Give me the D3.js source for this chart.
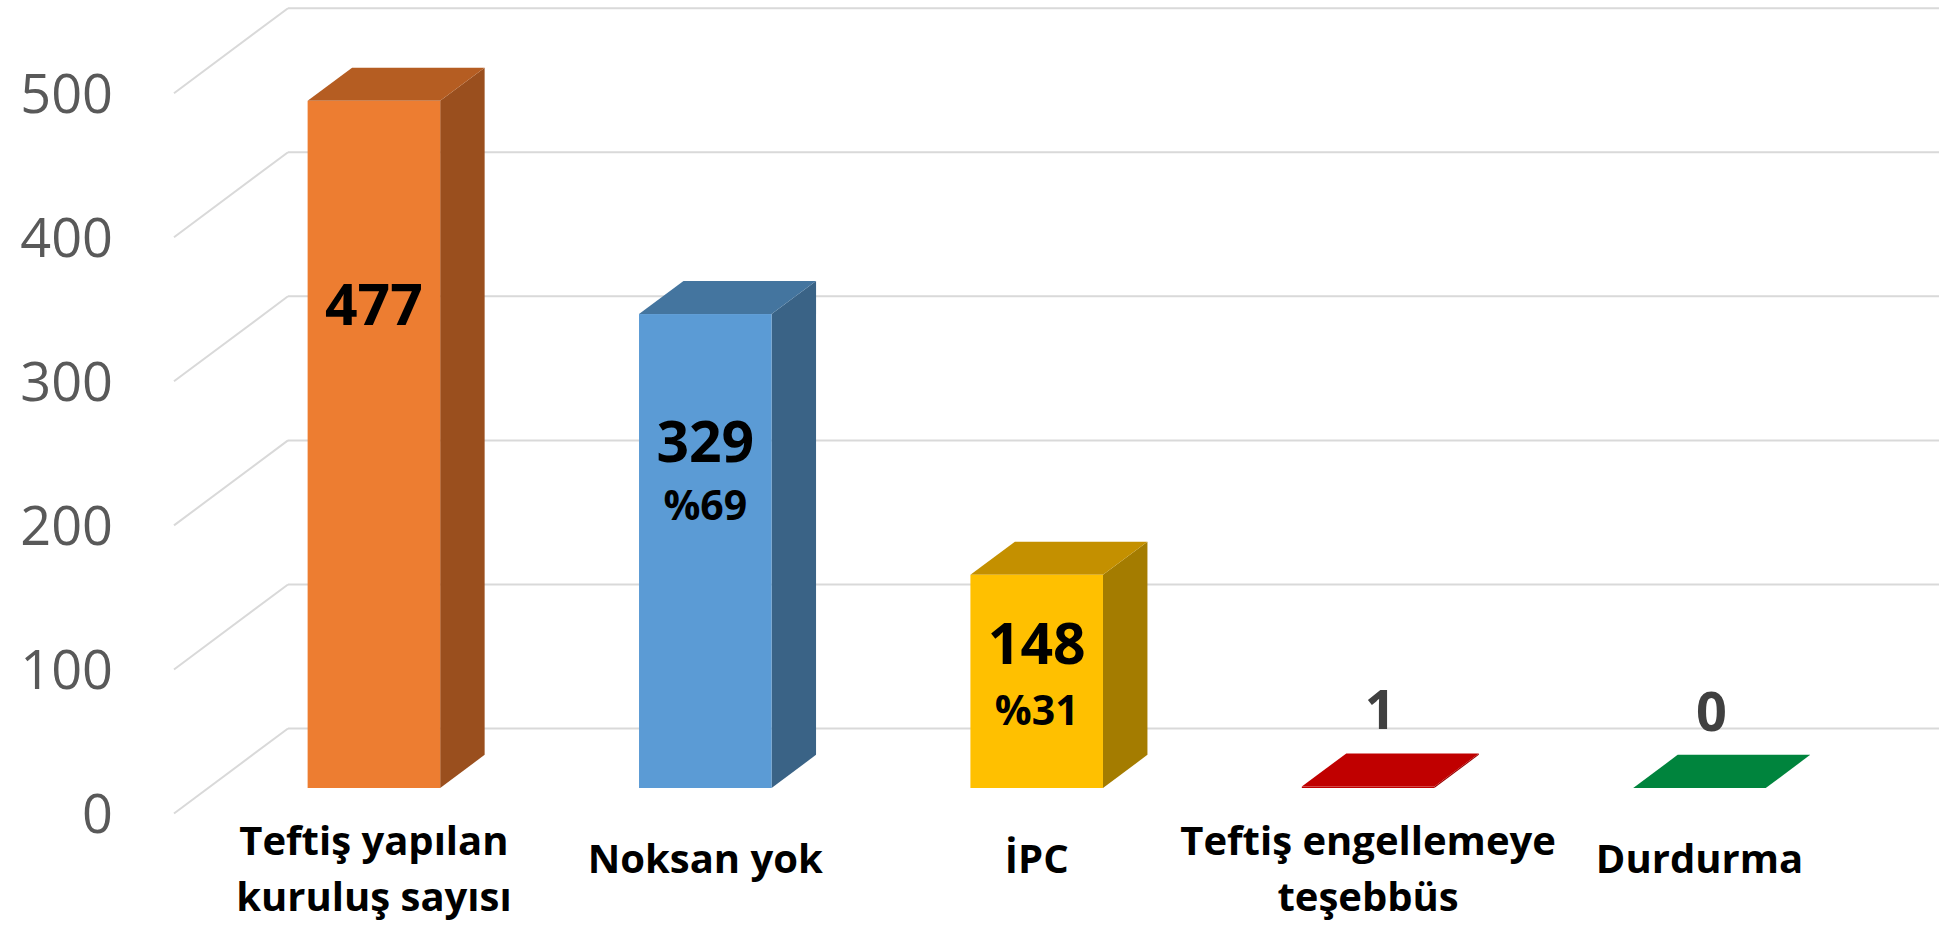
<html>
    <head>
        <meta charset="utf-8">
        <title>Teftiş sonuçları</title>
        <script src="https://cdnjs.cloudflare.com/ajax/libs/d3/7.8.5/d3.min.js"></script>
<style>
body { margin: 0; background: #fff; }
text { font-family: "Open Sans", "Noto Sans", sans-serif; }
</style>
    </head>
    <body>
        <svg id="chart" width="1946" height="931"></svg>
        <script>
// data
var categories = [['Teftiş yapılan', 'kuruluş sayısı'], ['Noksan yok'], ['İPC'], ['Teftiş engellemeye', 'teşebbüs'], ['Durdurma']];
var values = [477, 329, 148, 1, 0];
var shares = ['', '%69', '%31', '', ''];
var yTicks = [0, 100, 200, 300, 400, 500];

var fronts = ['#ED7D31', '#5B9BD5', '#FFC000', '#C00000', '#00843D'];
var tops   = ['#B55D22', '#44759F', '#C49000', '#C00000', '#00843D'];
var sides  = ['#9A4F1E', '#3A6386', '#A47C00', '#9A0000', '#006A31'];

// depth of the 3d box (oblique projection)
var DX = 114, DY = 85;
var zFront = 0.30, zBack = 0.69;

var svg = d3.select('#chart');

var x = d3.scaleBand()
    .domain(d3.range(values.length))
    .range([174, 1831])
    .paddingInner(0.6)
    .paddingOuter(0.3);

var y = d3.scaleLinear()
    .domain([0, 500])
    .range([813.5, 93.2]);

function px(xv, z) { return xv + z * DX; }
function py(v, z) { return y(v) - z * DY; }

// gridlines: side wall diagonals + back wall
var grid = svg.append('g');
yTicks.forEach(function (t) {
    grid.append('line')
        .attr('x1', x.range()[0]).attr('y1', y(t))
        .attr('x2', px(x.range()[0], 1)).attr('y2', py(t, 1))
        .attr('stroke', '#d9d9d9').attr('stroke-width', 2);
    grid.append('line')
        .attr('x1', px(x.range()[0], 1)).attr('y1', py(t, 1))
        .attr('x2', px(x.range()[1], 1) - 6).attr('y2', py(t, 1))
        .attr('stroke', '#d9d9d9').attr('stroke-width', 2);
});

// y tick labels
svg.append('g').selectAll('text')
    .data(yTicks)
    .enter()
    .append('text')
    .attr('x', 113)
    .attr('y', function (d) { return y(d); })
    .attr('dy', '0.36em')
    .attr('text-anchor', 'end')
    .attr('font-size', 54)
    .attr('fill', '#595959')
    .text(function (d) { return d; });

// bars
var bars = svg.append('g').selectAll('g')
    .data(values)
    .enter()
    .append('g');

function pts(arr) { return arr.map(function (p) { return p.join(','); }).join(' '); }

bars.append('polygon')
    .attr('fill', function (d, i) { return sides[i]; })
    .attr('points', function (d, i) {
        var xr = x(i) + x.bandwidth();
        return pts([[px(xr, zFront), py(0, zFront)], [px(xr, zBack), py(0, zBack)],
                    [px(xr, zBack), py(d, zBack)], [px(xr, zFront), py(d, zFront)]]);
    });

bars.append('polygon')
    .attr('fill', function (d, i) { return tops[i]; })
    .attr('points', function (d, i) {
        var xl = x(i), xr = x(i) + x.bandwidth();
        return pts([[px(xl, zFront), py(d, zFront)], [px(xr, zFront), py(d, zFront)],
                    [px(xr, zBack), py(d, zBack)], [px(xl, zBack), py(d, zBack)]]);
    });

bars.append('rect')
    .attr('fill', function (d, i) { return fronts[i]; })
    .attr('x', function (d, i) { return px(x(i), zFront); })
    .attr('y', function (d) { return py(d, zFront); })
    .attr('width', x.bandwidth())
    .attr('height', function (d) { return py(0, zFront) - py(d, zFront); });

// value labels: big bars carry them inside, flat bars above
var inside = { 0: [304], 1: [441, 505], 2: [643, 710] };
values.forEach(function (v, i) {
    var cx = px(x(i), zFront) + x.bandwidth() / 2;
    if (inside[i]) {
        svg.append('text')
            .attr('x', cx).attr('y', inside[i][0]).attr('dy', '0.36em')
            .attr('text-anchor', 'middle')
            .attr('font-size', 57).attr('font-weight', 700)
            .attr('fill', '#000')
            .text(v);
        if (shares[i]) {
            svg.append('text')
                .attr('x', cx).attr('y', inside[i][1]).attr('dy', '0.36em')
                .attr('text-anchor', 'middle')
                .attr('font-size', 41).attr('font-weight', 700)
                .attr('fill', '#000')
                .text(shares[i]);
        }
    } else {
        svg.append('text')
            .attr('x', cx + 12).attr('y', py(v, zBack) - 24)
            .attr('text-anchor', 'middle')
            .attr('font-size', 54).attr('font-weight', 700)
            .attr('fill', '#404040')
            .text(v);
    }
});

// category labels
var cats = svg.append('g').selectAll('text')
    .data(categories)
    .enter()
    .append('text')
    .attr('text-anchor', 'middle')
    .attr('font-size', 40)
    .attr('font-weight', 700)
    .attr('fill', '#000')
    .attr('x', function (d, i) { return px(x(i), zFront) + x.bandwidth() / 2; })
    .attr('y', function (d) { return d.length > 1 ? 841 : 859; });

cats.selectAll('tspan')
    .data(function (d) { return d; })
    .enter()
    .append('tspan')
    .attr('x', function () { return d3.select(this.parentNode).attr('x'); })
    .attr('dy', function (d, j) { return j === 0 ? '0.36em' : 56; })
    .text(function (d) { return d; });
        </script>
    </body>
</html>
